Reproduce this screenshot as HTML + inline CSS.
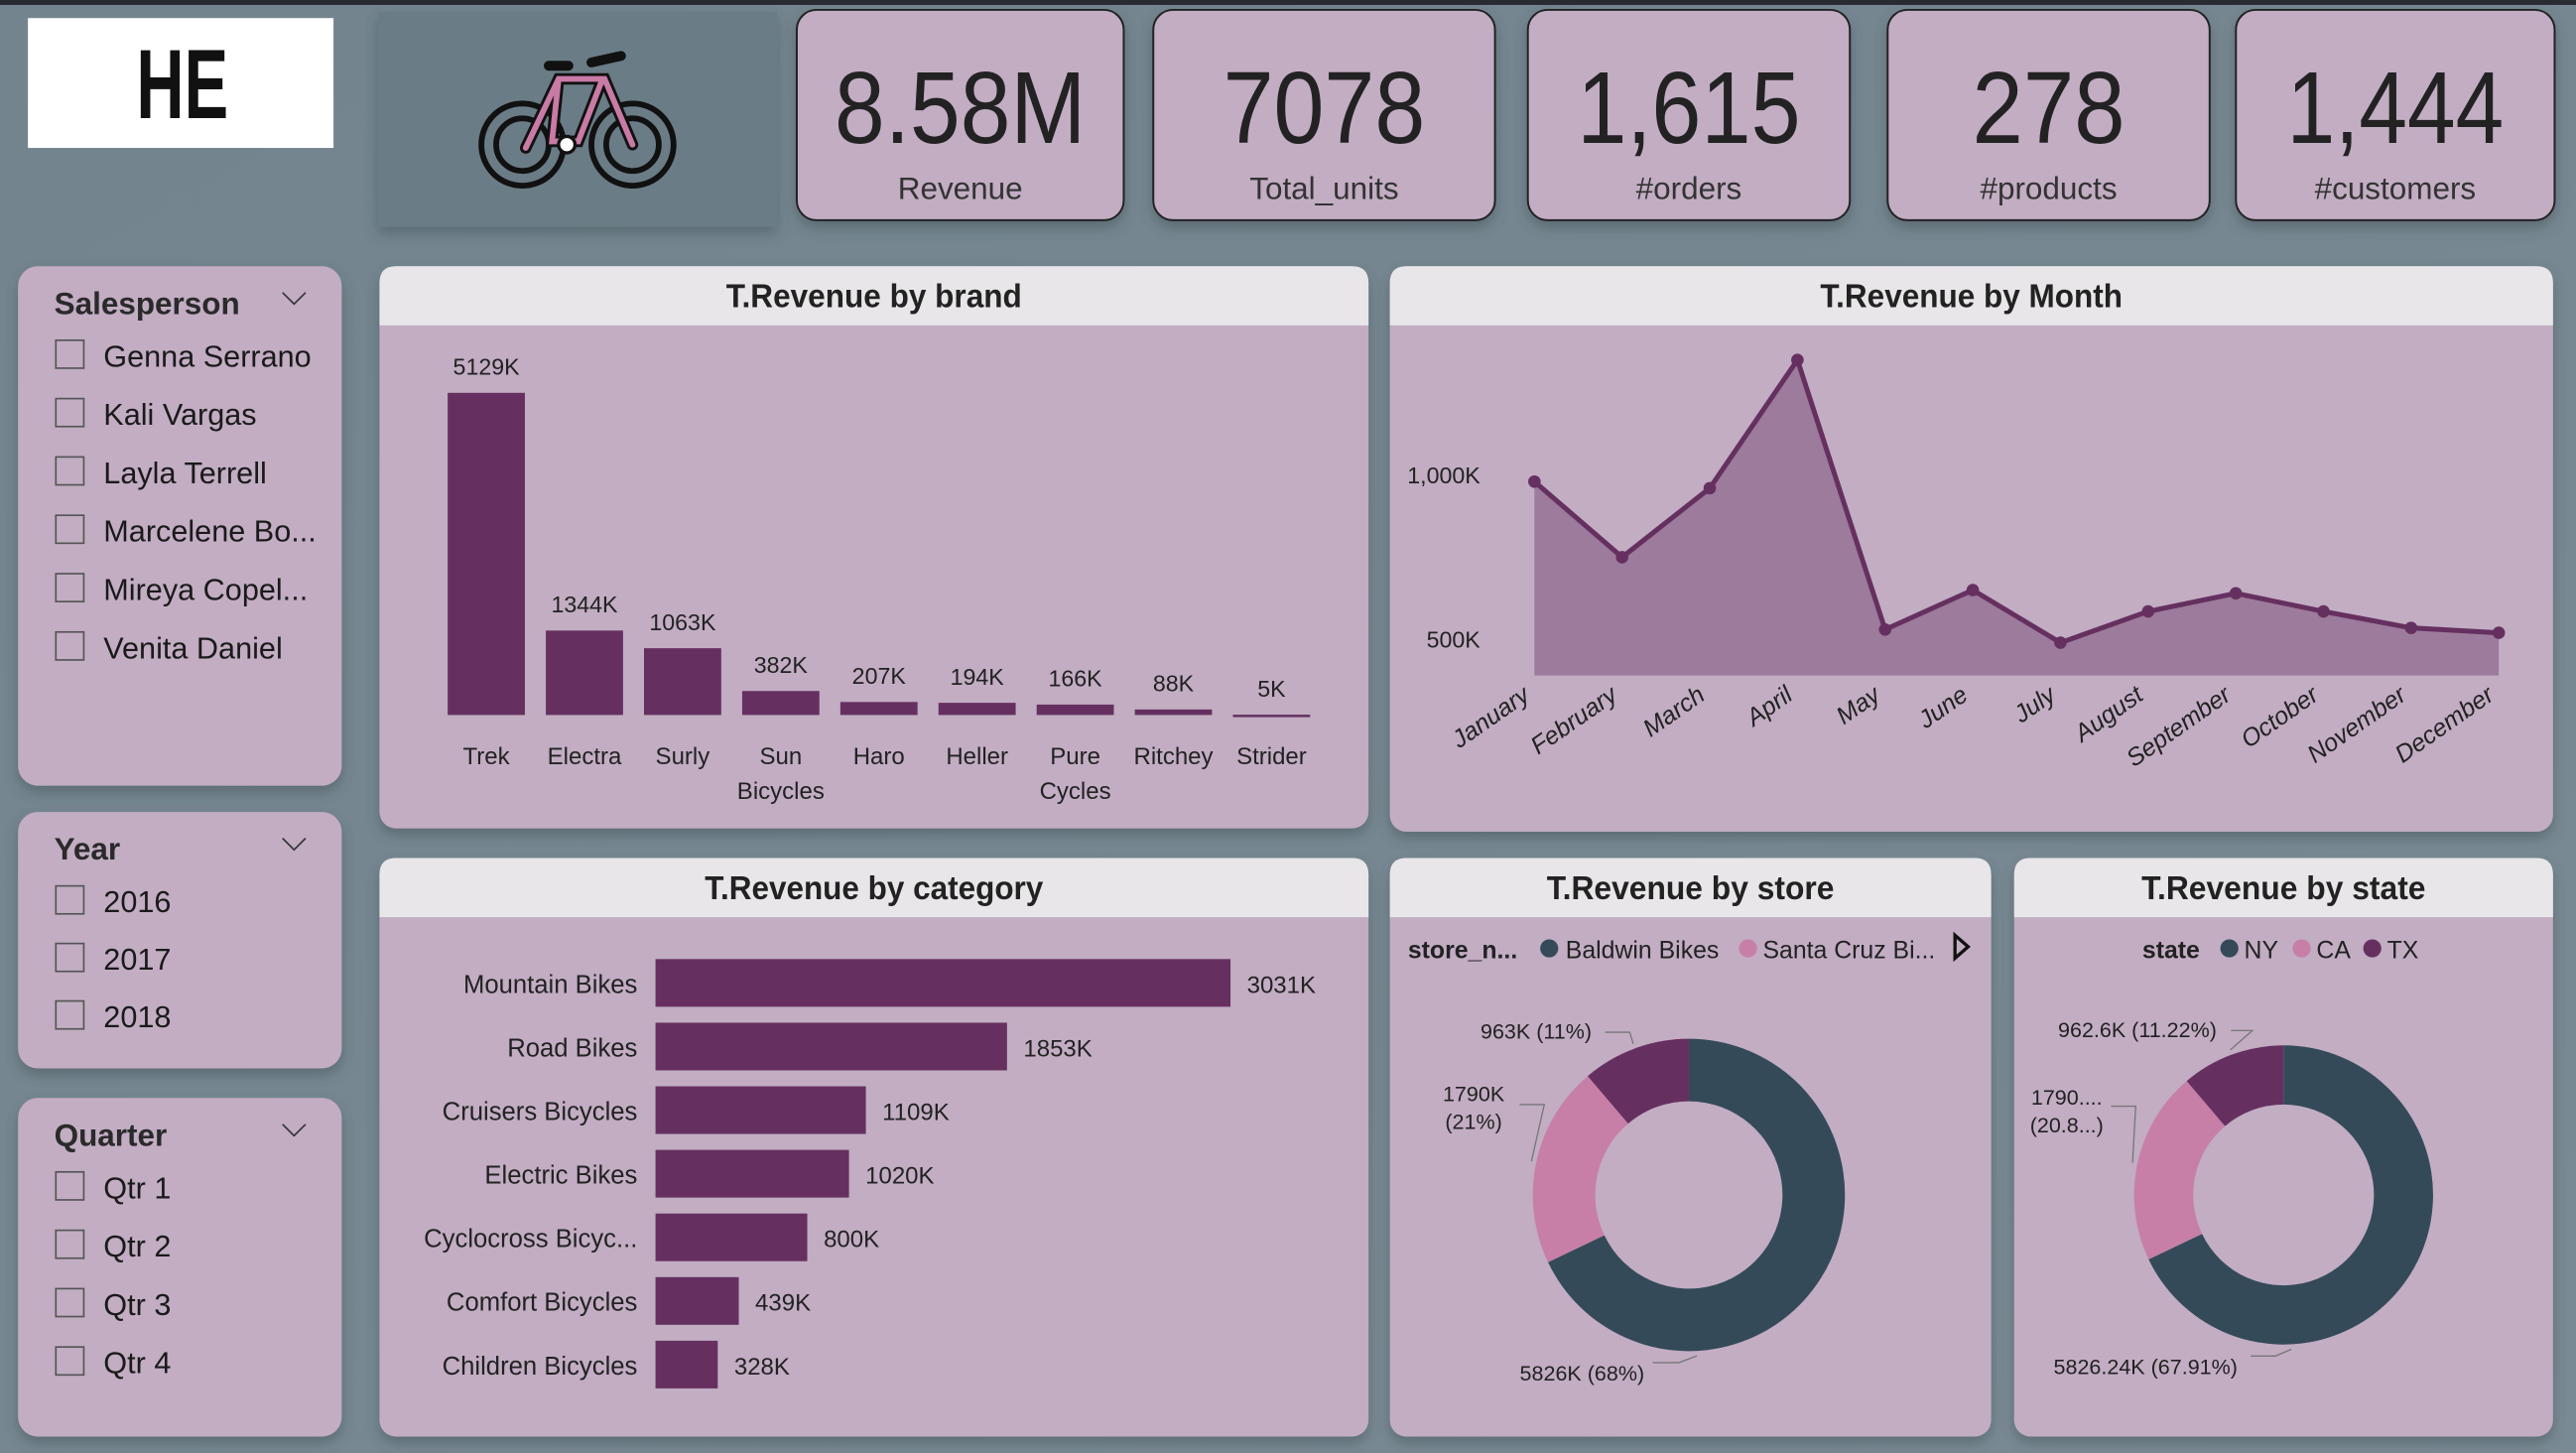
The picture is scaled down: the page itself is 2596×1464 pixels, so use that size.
<!DOCTYPE html>
<html><head><meta charset="utf-8">
<style>
html,body{margin:0;padding:0;background:#6f808a;overflow:hidden}
svg{display:block}
text{font-family:"Liberation Sans Narrow","Liberation Sans",sans-serif}
.s{font-family:"Liberation Sans",sans-serif}
</style></head>
<body>
<svg id="root" width="2596" height="1464" viewBox="0 0 1568 884" preserveAspectRatio="none">
<defs>
<linearGradient id="bg" x1="0" y1="0" x2="1" y2="1"><stop offset="0" stop-color="#73848e"/><stop offset="1" stop-color="#7a8a94"/></linearGradient>
<filter id="sh" x="-10%" y="-10%" width="120%" height="130%"><feDropShadow dx="0" dy="4" stdDeviation="4" flood-color="#3a4850" flood-opacity="0.45"/></filter>
</defs>
<rect width="1568" height="884" fill="url(#bg)"/>
<rect width="1568" height="3" fill="#2a2a33"/>

<g>
<rect x="17" y="11" width="186" height="79" fill="#fff"/>
<text x="83" y="72" font-size="60" font-weight="bold" fill="#111" textLength="56" lengthAdjust="spacingAndGlyphs">HE</text>
</g>

<g filter="url(#sh)">
<rect x="230" y="7" width="243" height="131" fill="#6b7c86"/>
</g>
<g fill="none" stroke="#111" stroke-width="3.5" stroke-linecap="round">
<circle cx="318" cy="88" r="25"/><circle cx="318" cy="88" r="16"/>
<circle cx="385" cy="88" r="25"/><circle cx="385" cy="88" r="16"/>
<path d="M320 90 L340 48 L368 48 L385 88 M340 48 L336 86 L352 86 L366 50" stroke="#111" stroke-width="7"/>
<path d="M320 90 L340 48 L368 48 L385 88 M340 48 L336 86 L352 86 L366 50" stroke="#c97aa5" stroke-width="3.5"/>
<path d="M334 40 L346 40 M360 38 L378 34" stroke-width="6"/>
<circle cx="345" cy="88" r="5" fill="#fff" stroke-width="2"/>
</g>

<g id="kpis"></g>
<g id="slicers"></g>
<g id="panels"></g>
<g id="brand"></g>
<g id="month"></g>
<g id="category"></g>
<g id="store"></g>
<g id="state"></g>
</svg>

<script>
const NS="http://www.w3.org/2000/svg";
function el(tag,attrs,parent,txt){const e=document.createElementNS(NS,tag);for(const k in attrs)e.setAttribute(k,attrs[k]);if(txt!==undefined)e.textContent=txt;(parent||document.getElementById('root')).appendChild(e);return e;}

// ---- data ----
const kpiValues=["8.58M","7078","1,615","278","1,444"];
const kpiLabels=["Revenue","Total_units","#orders","#products","#customers"];
const salespeople=["Genna Serrano","Kali Vargas","Layla Terrell","Marcelene Bo...","Mireya Copel...","Venita Daniel"];
const years=["2016","2017","2018"];
const quarters=["Qtr 1","Qtr 2","Qtr 3","Qtr 4"];
const brands=["Trek","Electra","Surly","Sun|Bicycles","Haro","Heller","Pure|Cycles","Ritchey","Strider"];
const brandRevenue=[5129,1344,1063,382,207,194,166,88,5];
const months=["January","February","March","April","May","June","July","August","September","October","November","December"];
const monthRevenue=[980,750,960,1350,530,650,490,585,640,585,535,520];
const monthTicks=[500,1000];
const monthTickLabels=["500K","1,000K"];
const categories=["Mountain Bikes","Road Bikes","Cruisers Bicycles","Electric Bikes","Cyclocross Bicyc...","Comfort Bicycles","Children Bicycles"];
const categoryRevenue=[3031,1853,1109,1020,800,439,328];
const storeNames=["Baldwin Bikes","Santa Cruz Bi...","Rowlett Bikes"];
const storeRevenue=[5826,1790,963];
const storeLabels=["5826K (68%)","1790K|(21%)","963K (11%)"];
const stateNames=["NY","CA","TX"];
const stateRevenue=[5826.24,1790,962.6];
const stateLabels=["5826.24K (67.91%)","1790....|(20.8...)","962.6K (11.22%)"];
const donutColors=["#344a58","#c77fa8","#65305f"];

// ---- KPI cards ----
const kg=document.getElementById('kpis');
const kx=[485,702,930,1149,1361], kw=[199,208,196,196,194];
const kTL=[153,123,136,93,132];
kpiValues.forEach((v,i)=>{
  const g=el('g',{},kg);
  
  
  el('rect',{x:kx[i],y:6,width:kw[i],height:128,rx:12,fill:'#c2adc3',stroke:'#222',"stroke-width":1.2,filter:'url(#sh)'},g);
  const cx=kx[i]+kw[i]/2;
  el('text',{x:cx-kTL[i]/2,y:87,"font-size":62,fill:'#222',textLength:kTL[i],lengthAdjust:'spacingAndGlyphs'},g,v);
  el('text',{x:cx,y:121,"text-anchor":"middle","font-size":19,fill:'#333',class:'s'},g,kpiLabels[i]);
});

// ---- slicers ----
const sg=document.getElementById('slicers');
function slicer(name,title,items,y,h,step){
  const g=el('g',{},sg);
  
  
  el('rect',{x:11,y:y,width:197,height:h,rx:12,fill:'#c2adc3',filter:'url(#sh)'},g);
  el('text',{x:33,y:y+29,"font-size":19,"font-weight":"bold",fill:'#2a2a2a'},g,title);
  el('path',{d:`M172 ${y+16} L179 ${y+23} L186 ${y+16}`,fill:'none',stroke:'#333',"stroke-width":1},g);
  items.forEach((t,i)=>{
    const yy=y+54+i*step;
    const r=el('rect',{x:34,y:yy-9,width:17,height:17,fill:'none',stroke:'#555',"stroke-width":1},g);
    
    
    el('text',{x:63,y:yy+7,"font-size":18.5,fill:'#1a1a1a',class:'s'},g,t);
  });
}
slicer('salesperson-slicer','Salesperson',salespeople,162,316,35.5);
slicer('year-slicer','Year',years,494,156,35);
slicer('quarter-slicer','Quarter',quarters,668,206,35.5);

// ---- panels ----
const pg=document.getElementById('panels');
function panel(name,title,x,y,w,h,tl){
  const g=el('g',{},pg);
  
  
  el('rect',{x,y,width:w,height:h,rx:10,fill:'#c2adc3',filter:'url(#sh)'},g);
  el('path',{d:`M${x} ${y+36} L${x} ${y+10} Q${x} ${y} ${x+10} ${y} L${x+w-10} ${y} Q${x+w} ${y} ${x+w} ${y+10} L${x+w} ${y+36} Z`,fill:'#e8e6e8'},g);
  const t=el('text',{x:x+w/2-tl/2,y:y+25,"font-size":20,"font-weight":"bold",fill:'#222',textLength:tl,lengthAdjust:'spacingAndGlyphs'},g,title);
  
  
}
panel('brand-chart-panel','T.Revenue by brand',231,162,602,342,180);
panel('month-chart-panel','T.Revenue by Month',846,162,708,344,184);
panel('category-chart-panel','T.Revenue by category',231,522,602,352,206);
panel('store-chart-panel','T.Revenue by store',846,522,366,352,175);
panel('state-chart-panel','T.Revenue by state',1226,522,328,352,173);

// ---- brand bar chart ----
const bg=document.getElementById('brand');
const bBase=435, bScale=196/5129, bX0=296, bStep=59.75, bW=47;
const by=v=>bBase-v*bScale, bx=i=>bX0+i*bStep;
brands.forEach((b,i)=>{
  const r=el('rect',{x:bx(i)-bW/2,y:by(brandRevenue[i]),width:bW,height:Math.max(1.5,bBase-by(brandRevenue[i])),fill:'#65305f'},bg);
  
  
  const l=el('text',{x:bx(i),y:by(brandRevenue[i])-11,"text-anchor":"middle","font-size":14,fill:'#222'},bg,brandRevenue[i]+'K');
  
  
  b.split('|').forEach((p,j)=>{
    const t=el('text',{x:bx(i),y:465+j*21,"text-anchor":"middle","font-size":14.5,fill:'#222'},bg,p);
    
    
  });
});

// ---- month area chart ----
const mg=document.getElementById('month');
const mX0=934, mStep=(1521-934)/11, mY1000=289, mY500=389, mBottom=411;
const mx=i=>mX0+i*mStep, my=v=>mY500-(v-500)*(mY500-mY1000)/500;
monthTicks.forEach((t,i)=>{
  const tl=el('text',{x:901,y:my(t)+5,"text-anchor":"end","font-size":14,fill:'#222'},mg,monthTickLabels[i]);
  
  
});
let area=`M${mx(0)} ${mBottom}`, line='';
monthRevenue.forEach((v,i)=>{area+=` L${mx(i)} ${my(v)}`;line+=(i?' L':'M')+mx(i)+' '+my(v);});
area+=` L${mx(11)} ${mBottom} Z`;
const ar=el('path',{d:area,fill:'#9c7b9c'},mg);


const ln=el('path',{d:line,fill:'none',stroke:'#65305f',"stroke-width":3,"stroke-linejoin":"round"},mg);


monthRevenue.forEach((v,i)=>{
  const c=el('circle',{cx:mx(i),cy:my(v),r:3.8,fill:'#65305f'},mg);
  
  
  const ax=mx(i)-2, ay=425;
  const t=el('text',{x:ax,y:ay,"text-anchor":"end","font-size":15,fill:'#222',"font-style":"italic",class:'s',transform:`rotate(-35 ${ax} ${ay})`},mg,months[i]);
  
  
});

// ---- category bar chart ----
const cg=document.getElementById('category');
const cX0=399, cScale=350/3031, cY0=598, cStep=38.7, cH=29;
const cx=v=>cX0+v*cScale, cy=i=>cY0+i*cStep;
categories.forEach((c,i)=>{
  const r=el('rect',{x:cX0,y:cy(i)-cH/2,width:cx(categoryRevenue[i])-cX0,height:cH,fill:'#65305f'},cg);
  
  
  const t=el('text',{x:388,y:cy(i)+6,"text-anchor":"end","font-size":15.5,fill:'#222'},cg,c);
  
  
  const v=el('text',{x:cx(categoryRevenue[i])+10,y:cy(i)+6,"font-size":14.5,fill:'#222'},cg,categoryRevenue[i]+'K');
  
  
});

// ---- donuts ----
function donut(gid,vals,labels,cxp,cyp,R,r,labelPos){
  const g=document.getElementById(gid);
  const tot=vals.reduce((a,b)=>a+b,0);
  let a0=-Math.PI/2;
  vals.forEach((v,i)=>{
    const a1=a0+v/tot*2*Math.PI, big=(a1-a0)>Math.PI?1:0;
    const p=(a,rr)=>[cxp+rr*Math.cos(a),cyp+rr*Math.sin(a)];
    const [x1,y1]=p(a0,R),[x2,y2]=p(a1,R),[x3,y3]=p(a1,r),[x4,y4]=p(a0,r);
    const s=el('path',{d:`M${x1} ${y1} A${R} ${R} 0 ${big} 1 ${x2} ${y2} L${x3} ${y3} A${r} ${r} 0 ${big} 0 ${x4} ${y4} Z`,fill:donutColors[i]},g);
    
    
    const lp=labelPos[i];
    labels[i].split('|').forEach((t,j)=>{
      const tx=el('text',{x:lp[0],y:lp[1]+j*17,"text-anchor":lp[2],"font-size":13,fill:'#222'},g,t);
      
      
    });
    const am=(i===0)?Math.PI/2-0.05:(a0+a1)/2,[lx,ly]=p(am,R+3);
    el('path',{d:`M${lx} ${ly} L${lp[3]} ${lp[4]} L${lp[5]} ${lp[4]}`,fill:'none',stroke:'#777',"stroke-width":0.8},g);
    a0=a1;
  });
}
donut('store',storeRevenue,storeLabels,1028,727,95,57,[[963,840,'middle',1022,829,1006],[897,670,'middle',940,672,925],[935,632,'middle',992,628,977]]);
donut('state',stateRevenue,stateLabels,1390,727,91,55,[[1306,836,'middle',1385,825,1370],[1258,672,'middle',1300,673,1285],[1301,631,'middle',1371,627,1358]]);

// legends
(function(){
  const g=document.getElementById('store');
  const lg=el('g',{},g);
  
  
  el('text',{x:857,y:583,"font-size":15,"font-weight":"bold",fill:'#222',class:'s'},lg,'store_n...');
  el('circle',{cx:943,cy:577,r:5.5,fill:donutColors[0]},lg);
  el('text',{x:953,y:583,"font-size":15,fill:'#222',class:'s'},lg,storeNames[0]);
  el('circle',{cx:1064,cy:577,r:5.5,fill:donutColors[1]},lg);
  el('text',{x:1073,y:583,"font-size":15,fill:'#222',class:'s'},lg,storeNames[1]);
  const ar=el('path',{d:'M1190 569 L1198 576 L1190 583 Z',fill:'none',stroke:'#111',"stroke-width":2},lg);
  
  
  const g2=document.getElementById('state');
  const lg2=el('g',{},g2);
  
  
  el('text',{x:1304,y:583,"font-size":15,"font-weight":"bold",fill:'#222',class:'s'},lg2,'state');
  [[1357,1366],[1401,1410],[1444,1453]].forEach((p,i)=>{
    el('circle',{cx:p[0],cy:577,r:5.5,fill:donutColors[i]},lg2);
    el('text',{x:p[1],y:583,"font-size":15,fill:'#222',class:'s'},lg2,stateNames[i]);
  });
})();
</script>
</body></html>
